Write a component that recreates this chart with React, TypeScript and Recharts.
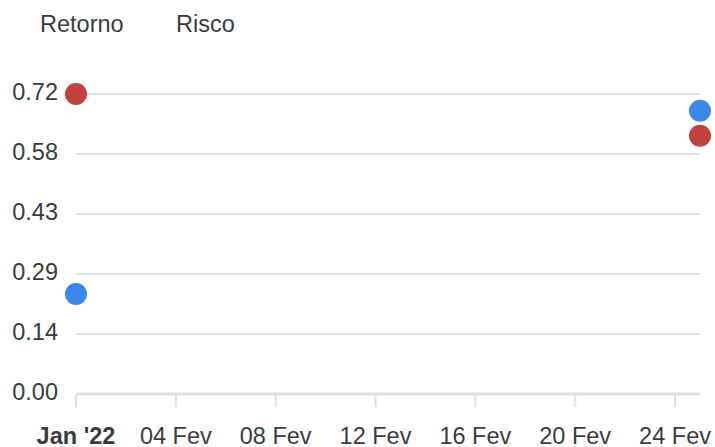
import React from 'react';
import {
  ScatterChart,
  Scatter,
  XAxis,
  YAxis,
  CartesianGrid,
} from 'recharts';

const day = 24 * 60 * 60 * 1000;
const start = Date.UTC(2022, 0, 31);
const end = Date.UTC(2022, 1, 25);

const dates = [start, end];
const retorno = [0.24, 0.68];
const risco = [0.72, 0.62];

const xTicks = [0, 4, 8, 12, 16, 20, 24].map((d) => start + d * day);
const yTicks = [0, 0.144, 0.288, 0.432, 0.576, 0.72];

const retornoData = dates.map((t, i) => ({ t, v: retorno[i] }));
const riscoData = dates.map((t, i) => ({ t, v: risco[i] }));

const font = '"Liberation Sans", Arial, sans-serif';
const textColor = '#373d3f';
const fontSize = 23.5;

function formatDate(t: number) {
  const d = new Date(t);
  if (d.getUTCDate() === 31 && d.getUTCMonth() === 0) return "Jan '22";
  return String(d.getUTCDate()).padStart(2, '0') + ' Fev';
}

function XTick(props: any) {
  const { x, y, payload } = props;
  const first = payload.value === start;
  return (
    <text
      x={x}
      y={y}
      dy="0.71em"
      textAnchor="middle"
      fill={textColor}
      fontSize={fontSize}
      fontFamily={font}
      fontWeight={first ? 'bold' : 'normal'}
    >
      {formatDate(payload.value)}
    </text>
  );
}

function YTick(props: any) {
  const { x, y, payload } = props;
  return (
    <text
      x={x}
      y={y - 2}
      dy="0.355em"
      textAnchor="end"
      fill={textColor}
      fontSize={fontSize}
      fontFamily={font}
    >
      {Number(payload.value).toFixed(2)}
    </text>
  );
}

const dot = (color: string) => (props: any) =>
  <circle cx={props.cx} cy={props.cy} r={11} fill={color} />;

export default function App() {
  const legendStyle = {
    position: 'absolute' as const,
    top: 10,
    fontFamily: font,
    fontSize,
    color: textColor,
    lineHeight: '28px',
  };
  return (
    <div style={{ position: 'fixed', left: 0, top: 0, width: 715, height: 447, background: '#fff' }}>
      <div style={{ ...legendStyle, left: 40 }}>Retorno</div>
      <div style={{ ...legendStyle, left: 176 }}>Risco</div>
      <ScatterChart width={715} height={447} margin={{ top: 94, right: 15, bottom: 0, left: 0 }}>
        <CartesianGrid horizontal vertical={false} stroke="#e0e0e0" strokeWidth={2} />
        <XAxis
          type="number"
          dataKey="t"
          domain={[start, end]}
          ticks={xTicks}
          height={53}
          tick={<XTick />}
          tickSize={13}
          tickMargin={20}
          axisLine={{ stroke: '#e0e0e0', strokeWidth: 3 }}
          tickLine={{ stroke: '#e0e0e0', strokeWidth: 2 }}
          interval={0}
        />
        <YAxis
          type="number"
          dataKey="v"
          domain={[0, 0.72]}
          ticks={yTicks}
          width={76}
          axisLine={false}
          tickLine={false}
          tickSize={0}
          tickMargin={18}
          tick={<YTick />}
          interval={0}
        />
        <Scatter name="Retorno" data={retornoData} shape={dot('#3b87ea')} isAnimationActive={false} />
        <Scatter name="Risco" data={riscoData} shape={dot('#c0413e')} isAnimationActive={false} />
      </ScatterChart>
    </div>
  );
}
